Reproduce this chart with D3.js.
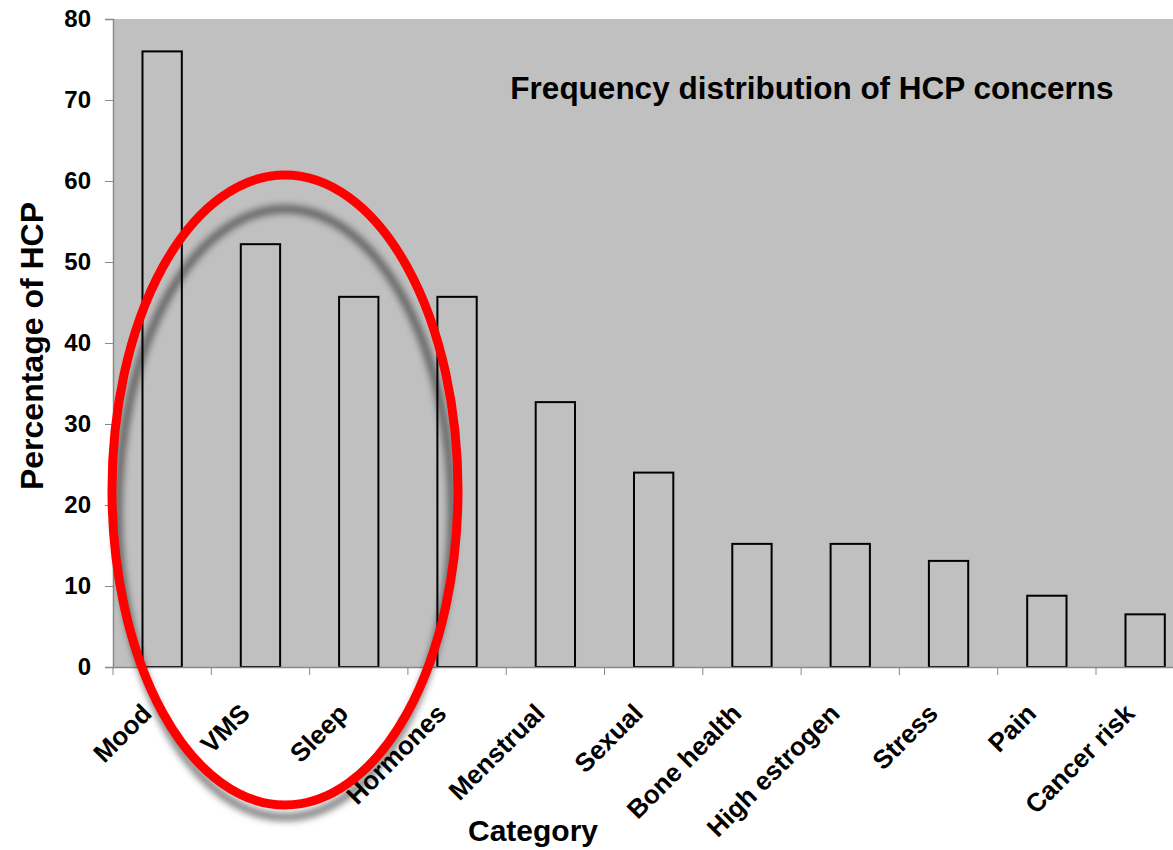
<!DOCTYPE html>
<html><head><meta charset="utf-8">
<script src="https://cdn.jsdelivr.net/npm/d3@7"></script>
<style>body{margin:0;background:#fff;overflow:hidden}svg{display:block}</style>
</head><body>
<script>
const categories = ["Mood","VMS","Sleep","Hormones","Menstrual","Sexual","Bone health","High estrogen","Stress","Pain","Cancer risk"];
const values = [76.0, 52.2, 45.7, 45.7, 32.7, 24.0, 15.2, 15.2, 13.1, 8.8, 6.5];
const yTicks = [0,10,20,30,40,50,60,70,80];
const chartTitle = "Frequency distribution of HCP concerns";
const xTitle = "Category";
const yTitle = "Percentage of HCP";

const W = 1173, H = 850;
const pLeft = 113, pTop = 19, pBottom = 667;
const pRight = pLeft + 98.3 * categories.length;
const FONT = "Liberation Sans, Arial, Helvetica, sans-serif";

const svg = d3.select("body").append("svg").attr("width", W).attr("height", H);
const defs = svg.append("defs");
defs.append("filter").attr("id","blur").attr("x","-20%").attr("y","-20%").attr("width","140%").attr("height","140%")
  .append("feGaussianBlur").attr("stdDeviation", 3.5);

const x = d3.scaleBand().domain(categories).range([pLeft, pRight]).paddingInner(0.6).paddingOuter(0.3);
const xb = d3.scaleBand().domain(categories).range([pLeft, pRight]);
const y = d3.scaleLinear().domain([0, 80]).range([pBottom, pTop]);

svg.append("rect").attr("x", pLeft).attr("y", pTop).attr("width", pRight-pLeft).attr("height", pBottom-pTop).attr("fill", "#c0c0c0");

svg.append("g").selectAll("rect").data(values).join("rect")
  .attr("x", (d,i) => x(categories[i]))
  .attr("y", d => y(d))
  .attr("width", x.bandwidth())
  .attr("height", d => y(0) - y(d))
  .attr("fill", "none").attr("stroke", "#000").attr("stroke-width", 2);

// y axis
const ya = svg.append("g").attr("transform", `translate(${pLeft},0)`)
  .call(d3.axisLeft(y).tickValues(yTicks).tickSize(8).tickPadding(14));
ya.select(".domain").attr("stroke", "#888").attr("stroke-width", 1.5);
ya.selectAll(".tick line").attr("stroke", "#888");
ya.selectAll("text").attr("font-family", FONT).attr("font-weight", "bold").attr("font-size", 24).attr("fill", "#000");

// x axis
const xa = svg.append("g").attr("transform", `translate(0,${pBottom})`)
  .call(d3.axisBottom(xb).tickSize(0).tickFormat(""));
xa.select(".domain").attr("stroke", "#888").attr("stroke-width", 1.5);
xa.selectAll(".tick line").remove();
svg.append("g").selectAll("line").data(categories).join("line")
  .attr("x1", d => xb(d)).attr("x2", d => xb(d))
  .attr("y1", pBottom).attr("y2", pBottom + 8).attr("stroke", "#888");

svg.append("g").selectAll("text").data(categories).join("text")
  .attr("transform", d => `translate(${xb(d) + xb.bandwidth()/2 - 9},${pBottom + 48}) rotate(-45)`)
  .attr("text-anchor", "end")
  .attr("font-family", FONT).attr("font-weight", "bold").attr("font-size", 26)
  .text(d => d);

svg.append("text").attr("x", 533).attr("y", 841).attr("text-anchor", "middle")
  .attr("font-family", FONT).attr("font-weight", "bold").attr("font-size", 30).text(xTitle);
svg.append("text").attr("transform", `translate(43,346) rotate(-90)`).attr("text-anchor", "middle")
  .attr("font-family", FONT).attr("font-weight", "bold").attr("font-size", 32).text(yTitle);
svg.append("text").attr("x", 812).attr("y", 99).attr("text-anchor", "middle")
  .attr("font-family", FONT).attr("font-weight", "bold").attr("font-size", 31.5).text(chartTitle);

// highlight ellipse with soft shadow
svg.append("ellipse").attr("cx", 285).attr("cy", 513).attr("rx", 167).attr("ry", 304)
  .attr("fill", "none").attr("stroke", "#000").attr("stroke-opacity", 0.5).attr("stroke-width", 8).attr("filter", "url(#blur)");
svg.append("ellipse").attr("cx", 285).attr("cy", 490).attr("rx", 173).attr("ry", 315)
  .attr("fill", "none").attr("stroke", "#ff0000").attr("stroke-width", 9);
</script>
</body></html>
